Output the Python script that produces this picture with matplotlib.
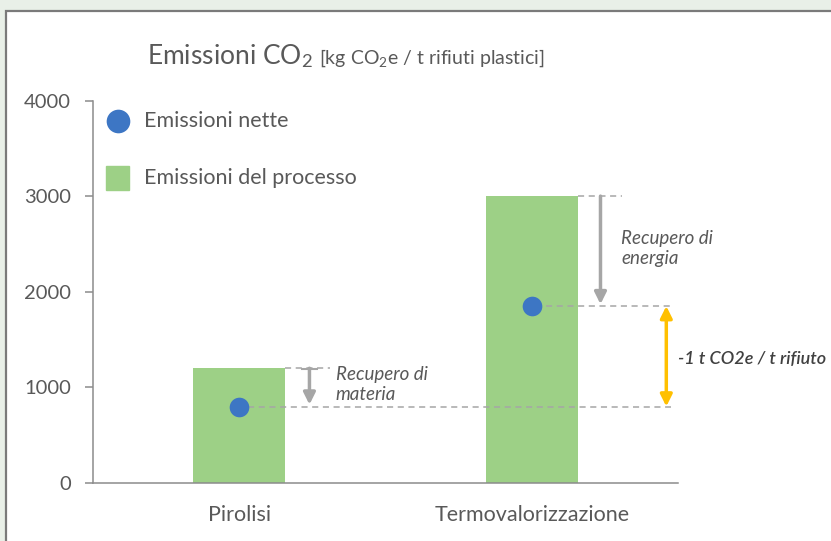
import matplotlib
matplotlib.use("Agg")
import matplotlib.pyplot as plt
from matplotlib.patches import Rectangle

plt.rcParams["font.family"] = ["Lato", "DejaVu Sans"]
plt.rcParams["mathtext.fontset"] = "custom"
plt.rcParams["mathtext.rm"] = "Lato"
plt.rcParams["mathtext.it"] = "Lato:italic"

# Data (kg CO2e per t of plastic waste)
categories = ["Pirolisi", "Termovalorizzazione"]
process_emissions = [1200, 3000]
net_emissions = [800, 1850]
recovery_labels = ["Recupero di\nmateria", "Recupero di\nenergia"]
yticks = [0, 1000, 2000, 3000, 4000]

GREEN = "#9dd086"
BLUE = "#3d76c4"
GREY = "#a6a6a6"
TEXT = "#595959"
GOLD = "#ffc000"

W, H = 831, 541
fig = plt.figure(figsize=(W / 100, H / 100), dpi=100)
fig.patch.set_facecolor("#e9f0e8")

# white panel with a dark border on top and left
panel = Rectangle((6 / W, -0.1), 1, 1.1 - 11 / H, transform=fig.transFigure,
                  facecolor="white", edgecolor="#7a7a7a", linewidth=1.6,
                  zorder=0)
fig.patches.append(panel)

ax = fig.add_axes([93 / W, 1 - 483 / H, 585 / W, 382.5 / H], zorder=2)
ax.set_facecolor("none")

x = list(range(len(categories)))
ax.bar(x, process_emissions, width=0.315, color=GREEN, zorder=2)
ax.scatter(x, net_emissions, s=200, color=BLUE, zorder=4, linewidths=0)

ax.set_xlim(-0.5, 1.5)
ax.set_ylim(0, 4000)
ax.set_yticks(yticks)
ax.set_yticklabels([str(v) for v in yticks])
ax.set_xticks(x)
ax.set_xticklabels(categories)

for side in ["top", "right"]:
    ax.spines[side].set_visible(False)
ax.spines["left"].set_color("#8c8c8c")
ax.spines["bottom"].set_color("#8c8c8c")
ax.spines["left"].set_linewidth(1.1)
ax.spines["bottom"].set_linewidth(1.1)
ax.tick_params(axis="y", length=6, width=1.1, color="#8c8c8c", pad=10,
               labelsize=14.5, labelcolor=TEXT)
ax.tick_params(axis="x", length=0, pad=16, labelsize=15.5, labelcolor=TEXT)

dash = dict(color=GREY, linewidth=1.1, linestyle=(0, (4, 3)), zorder=3)
half = 0.315 / 2
arrow_down = dict(arrowstyle="-|>,head_length=0.7,head_width=0.35",
                  color=GREY, lw=2.5, shrinkA=0, shrinkB=0)

# Pirolisi: material recovery
ax.plot([0 + half, 0.31], [process_emissions[0]] * 2, **dash)
ax.plot([0.03, 1.475], [net_emissions[0]] * 2, **dash)
ax.annotate("", xy=(0.24, net_emissions[0] + 20), xytext=(0.24, process_emissions[0]),
            arrowprops=arrow_down, zorder=3)
ax.plot([0.215, 0.265], [process_emissions[0] - 10] * 2, color=GREY, lw=1.5, zorder=3)
ax.text(0.33, 1030, recovery_labels[0], style="italic", color=TEXT,
        fontsize=13.5, va="center", ha="left", linespacing=1.2)

# Termovalorizzazione: energy recovery
ax.plot([1 + half, 1.31], [process_emissions[1]] * 2, **dash)
ax.plot([1.05, 1.475], [net_emissions[1]] * 2, **dash)
ax.annotate("", xy=(1.235, net_emissions[1] + 20), xytext=(1.235, process_emissions[1]),
            arrowprops=arrow_down, zorder=3)
ax.text(1.305, 2450, recovery_labels[1], style="italic", color=TEXT,
        fontsize=13.5, va="center", ha="left", linespacing=1.2)

# difference between the two net values
ax.annotate("", xy=(1.46, net_emissions[0]), xytext=(1.46, net_emissions[1]),
            arrowprops=dict(arrowstyle="<|-|>,head_length=0.7,head_width=0.35",
                            color=GOLD, lw=2.5, shrinkA=0, shrinkB=0), zorder=3,
            annotation_clip=False)
ax.text(1.5, 1300, "-1 t CO2e / t rifiuto",
        style="italic", fontweight="semibold", color="#404040", fontsize=13,
        va="center", ha="left", clip_on=False)

# legend drawn by hand in the upper left corner
ax.scatter([-0.415], [3790], s=290, color=BLUE, linewidths=0,
           clip_on=False, zorder=4)
ax.text(-0.325, 3790, "Emissioni nette", color=TEXT, fontsize=15.5, va="center")
ax.add_patch(Rectangle((-0.456, 3065), 0.079, 250, color=GREEN, zorder=2))
ax.text(-0.325, 3190, "Emissioni del processo", color=TEXT, fontsize=15.5, va="center")

# title: large "Emissioni CO2" followed by the smaller unit
t1 = fig.text(147 / W, 1 - 64 / H, "Emissioni CO$_2$", fontsize=19,
              color=TEXT, va="baseline", ha="left")
fig.canvas.draw()
bb = t1.get_window_extent()
fig.text((bb.x1 + 6) / W, 1 - 64 / H, "[kg CO$_2$e / t rifiuti plastici]", fontsize=14,
         color=TEXT, va="baseline", ha="left")

fig.savefig("out.png", dpi=100, facecolor=fig.get_facecolor())
